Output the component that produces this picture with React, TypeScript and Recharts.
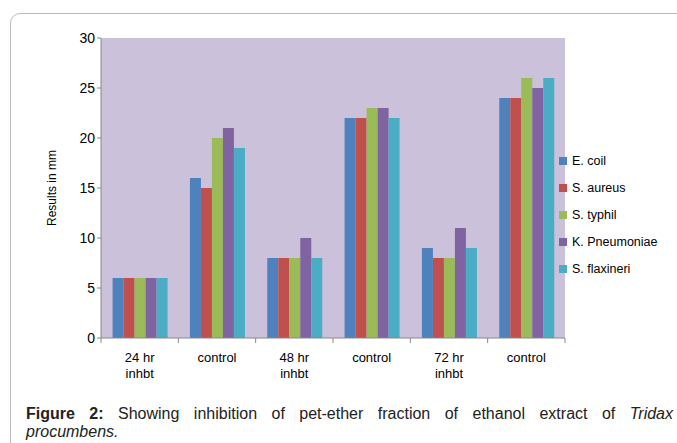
import React from 'react';
import { BarChart, Bar, XAxis, YAxis, CartesianGrid, Label } from 'recharts';

const categories = ['24 hr inhbt', 'control', '48 hr inhbt', 'control', '72 hr inhbt', 'control'];
const seriesNames = ['E. coil', 'S. aureus', 'S. typhil', 'K. Pneumoniae', 'S. flaxineri'];
const eColi = [6, 16, 8, 22, 9, 24];
const sAureus = [6, 15, 8, 22, 8, 24];
const sTyphi = [6, 20, 8, 23, 8, 26];
const kPneumoniae = [6, 21, 10, 23, 11, 25];
const sFlaxineri = [6, 19, 8, 22, 9, 26];
const yTicks = [0, 5, 10, 15, 20, 25, 30];

const colors = ['#4F81BD', '#C0504D', '#9BBB59', '#8064A2', '#4BACC6'];
const keys = ['s0', 's1', 's2', 's3', 's4'];
const allSeries = [eColi, sAureus, sTyphi, kPneumoniae, sFlaxineri];

const data = categories.map((c, i) => {
  const row: any = { name: c, idx: i };
  allSeries.forEach((s, j) => (row[keys[j]] = s[i]));
  return row;
});

const PLOT_LEFT = 101;
const PLOT_RIGHT = 565;
const BAND = (PLOT_RIGHT - PLOT_LEFT) / categories.length;
const FONT = 'Liberation Sans, Arial, sans-serif';

const XTick = (props: any) => {
  const { x, y, payload, index } = props;
  const words = String(payload.value).split(' ');
  const lines = words.length > 2 ? [words.slice(0, 2).join(' '), words.slice(2).join(' ')] : [payload.value];
  return (
    <g>
      <line x1={x - BAND / 2} x2={x - BAND / 2} y1={y - 8} y2={y - 3} stroke="#888" />
      {index === categories.length - 1 && (
        <line x1={x + BAND / 2} x2={x + BAND / 2} y1={y - 8} y2={y - 3} stroke="#888" />
      )}
      <text x={x} y={y + 16} textAnchor="middle" fontSize={13} fill="#000" fontFamily={FONT}>
        {lines.map((l: string, k: number) => (
          <tspan key={k} x={x} dy={k === 0 ? 0 : 16}>
            {l}
          </tspan>
        ))}
      </text>
    </g>
  );
};

export default function App() {
  return (
    <div style={{ position: 'absolute', left: 0, top: 0, width: 677, height: 443, overflow: 'hidden', background: '#fff', fontFamily: FONT }}>
      <div
        style={{
          position: 'absolute',
          left: 10,
          top: 13,
          width: 720,
          height: 500,
          border: '1px solid #bbb',
          borderRadius: 10,
        }}
      />
      <BarChart
        width={677}
        height={443}
        data={data}
        margin={{ top: 38, right: 677 - PLOT_RIGHT, bottom: 0, left: 41 }}
        barCategoryGap="15%"
        barGap={0}
        style={{ position: 'absolute', left: 0, top: 0 }}
      >
        <CartesianGrid horizontal={false} vertical={false} fill="#CCC1DA" />
        <XAxis
          dataKey="idx"
          tick={(p: any) => <XTick {...p} payload={{ value: categories[p.payload.value] }} />}
          tickLine={false}
          axisLine={{ stroke: '#888' }}
          height={105}
          interval={0}
        />
        <YAxis
          domain={[0, 30]}
          ticks={yTicks}
          width={60}
          tick={{ fontSize: 14, fill: '#000', fontFamily: FONT }}
          tickLine={{ stroke: '#888' }}
          tickSize={4}
          axisLine={{ stroke: '#888' }}
          interval={0}
        >
          <Label
            value="Results in mm"
            angle={-90}
            position="insideLeft"
            offset={11}
            style={{ fontSize: 12, fill: '#000', fontFamily: FONT, textAnchor: 'middle' }}
          />
        </YAxis>
        {keys.map((k, j) => (
          <Bar key={k} dataKey={k} name={seriesNames[j]} fill={colors[j]} isAnimationActive={false} />
        ))}
      </BarChart>
      <div style={{ position: 'absolute', left: 559, top: 148 }}>
        {seriesNames.map((n, j) => (
          <div key={n} style={{ display: 'flex', alignItems: 'center', height: 26.8, fontSize: 12.5 }}>
            <span style={{ display: 'inline-block', width: 8, height: 8, background: colors[j], marginRight: 5 }} />
            {n}
          </div>
        ))}
      </div>
      <div style={{ position: 'absolute', left: 26, top: 405, width: 647, fontSize: 16, lineHeight: '18px', color: '#222' }}>
        <div style={{ textAlign: 'justify', textAlignLast: 'justify', whiteSpace: 'nowrap' }}>
          <b>Figure 2:</b> Showing inhibition of pet-ether fraction of ethanol extract of <i>Tridax</i>
        </div>
        <div>
          <i>procumbens.</i>
        </div>
      </div>
    </div>
  );
}
